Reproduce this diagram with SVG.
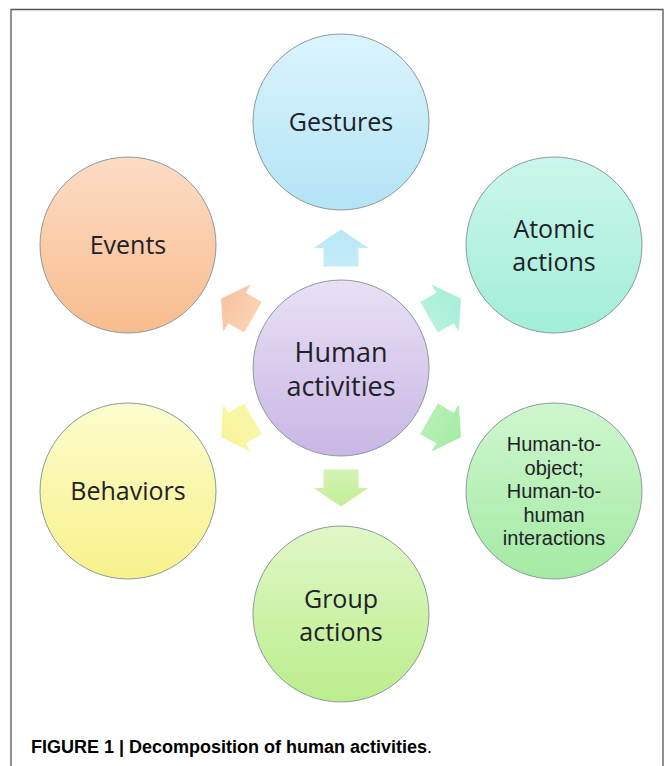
<svg xmlns="http://www.w3.org/2000/svg" width="667" height="766" viewBox="0 0 667 766">
<defs>
<linearGradient id="gBlue" x1="0" y1="0" x2="0" y2="1"><stop offset="0" stop-color="#daf4fd"/><stop offset="1" stop-color="#b3e3f5"/></linearGradient>
<linearGradient id="gOrange" x1="0" y1="0" x2="0" y2="1"><stop offset="0" stop-color="#fcdcc4"/><stop offset="1" stop-color="#f8bc8e"/></linearGradient>
<linearGradient id="gTeal" x1="0" y1="0" x2="0" y2="1"><stop offset="0" stop-color="#cbf6ec"/><stop offset="1" stop-color="#a1eed6"/></linearGradient>
<linearGradient id="gPurple" x1="0" y1="0" x2="0" y2="1"><stop offset="0" stop-color="#e9e0f4"/><stop offset="1" stop-color="#c9b6e5"/></linearGradient>
<linearGradient id="gYellow" x1="0" y1="0" x2="0" y2="1"><stop offset="0" stop-color="#fdfcce"/><stop offset="1" stop-color="#f7f18a"/></linearGradient>
<linearGradient id="gGreen" x1="0" y1="0" x2="0" y2="1"><stop offset="0" stop-color="#cff6cf"/><stop offset="1" stop-color="#a3eaa3"/></linearGradient>
<linearGradient id="gLime" x1="0" y1="0" x2="0" y2="1"><stop offset="0" stop-color="#e0f7c6"/><stop offset="1" stop-color="#bbed8c"/></linearGradient>
<linearGradient id="aBlue" x1="0" y1="0" x2="1" y2="0"><stop offset="0" stop-color="#c4ecf8"/><stop offset="1" stop-color="#b8e7f7"/></linearGradient>
<linearGradient id="aTeal" x1="0" y1="0" x2="1" y2="0"><stop offset="0" stop-color="#b6f1de"/><stop offset="1" stop-color="#a6eed8"/></linearGradient>
<linearGradient id="aGreen" x1="0" y1="0" x2="1" y2="0"><stop offset="0" stop-color="#b5f0b5"/><stop offset="1" stop-color="#a4eca4"/></linearGradient>
<linearGradient id="aLime" x1="0" y1="0" x2="1" y2="0"><stop offset="0" stop-color="#d3f3b2"/><stop offset="1" stop-color="#c3ef97"/></linearGradient>
<linearGradient id="aYellow" x1="0" y1="0" x2="1" y2="0"><stop offset="0" stop-color="#f9f6a8"/><stop offset="1" stop-color="#f8f39a"/></linearGradient>
<linearGradient id="aOrange" x1="0" y1="0" x2="1" y2="0"><stop offset="0" stop-color="#fbd2b3"/><stop offset="1" stop-color="#f8c29e"/></linearGradient>
<polygon id="arrow" points="-18.5,-17.5 0,-17.5 0,-27.5 18.5,0 0,27.5 0,17.5 -18.5,17.5"/>
</defs>
<style>
.node circle{stroke:#8c9a9c;stroke-width:1;}
.lbl{font-family:"Open Sans","Liberation Sans",sans-serif;fill:#1e2228;text-anchor:middle;}
.sm{font-family:"Liberation Sans",Arial,sans-serif;font-size:20px;fill:#1e2228;text-anchor:middle;}
.cap{font-family:"Liberation Sans",Arial,sans-serif;font-size:18px;fill:#000;}
</style>
<rect width="667" height="766" fill="#fff"/>
<path d="M11,766 V9.5 H663 V766" fill="none" stroke="#555" stroke-width="1.3"/>

<g id="connectors">
<use href="#arrow" fill="url(#aBlue)" transform="translate(341,248) rotate(-90)"/>
<use href="#arrow" fill="url(#aTeal)" transform="translate(445,308) rotate(-30)"/>
<use href="#arrow" fill="url(#aGreen)" transform="translate(445,428) rotate(30)"/>
<use href="#arrow" fill="url(#aLime)" transform="translate(341,488) rotate(90)"/>
<use href="#arrow" fill="url(#aYellow)" transform="translate(237,428) rotate(150)"/>
<use href="#arrow" fill="url(#aOrange)" transform="translate(237,308) rotate(210)"/>
</g>

<g id="gestures" class="node">
<circle cx="341" cy="122" r="88" fill="url(#gBlue)"/>
<text class="lbl" x="341" y="131" font-size="25">Gestures</text>
</g>
<g id="events" class="node">
<circle cx="128" cy="245" r="88" fill="url(#gOrange)"/>
<text class="lbl" x="128" y="254" font-size="25">Events</text>
</g>
<g id="atomic" class="node">
<circle cx="554" cy="245" r="88" fill="url(#gTeal)"/>
<text class="lbl" x="554" y="238" font-size="25">Atomic</text>
<text class="lbl" x="554" y="271" font-size="25">actions</text>
</g>
<g id="human" class="node">
<circle cx="341" cy="368" r="88" fill="url(#gPurple)"/>
<text class="lbl" x="341" y="362" font-size="27">Human</text>
<text class="lbl" x="341" y="396" font-size="27">activities</text>
</g>
<g id="behaviors" class="node">
<circle cx="128" cy="491" r="88" fill="url(#gYellow)"/>
<text class="lbl" x="128" y="500" font-size="25">Behaviors</text>
</g>
<g id="interactions" class="node">
<circle cx="554" cy="491" r="88" fill="url(#gGreen)"/>
<text class="sm" x="554" y="451">Human-to-</text>
<text class="sm" x="554" y="474.5">object;</text>
<text class="sm" x="554" y="498">Human-to-</text>
<text class="sm" x="554" y="521.5">human</text>
<text class="sm" x="554" y="545">interactions</text>
</g>
<g id="group" class="node">
<circle cx="341" cy="614" r="88" fill="url(#gLime)"/>
<text class="lbl" x="341" y="608" font-size="25">Group</text>
<text class="lbl" x="341" y="641" font-size="25">actions</text>
</g>

<text class="cap" x="31" y="753"><tspan font-weight="bold">FIGURE 1 | Decomposition of human activities</tspan>.</text>
</svg>
